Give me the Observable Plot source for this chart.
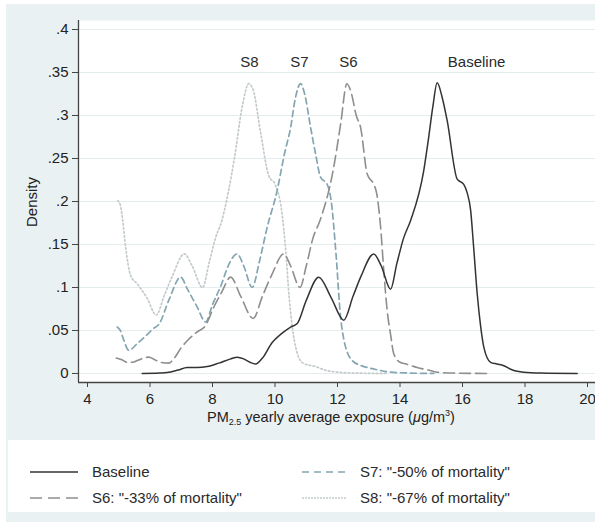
<!DOCTYPE html>
<html>
<head>
<meta charset="utf-8">
<script src="https://cdn.jsdelivr.net/npm/d3@7"></script>
<script src="https://cdn.jsdelivr.net/npm/@observablehq/plot@0.6"></script>
<style>
  html, body { margin: 0; padding: 0; background: #ffffff; }
  #wrap { position: relative; width: 595px; height: 522px; overflow: hidden; background: #ffffff; font-family: "Liberation Sans", Arial, sans-serif; }
  #bg { position: absolute; left: 6px; top: 4px; right: 0; bottom: 0; background: #eaf1f2; }
  #chart { position: absolute; left: 0; top: 0; }
  #legend { position: absolute; left: 8px; top: 440px; width: 587px; height: 72px; background: #ffffff; }
</style>
</head>
<body>
<div id="wrap">
  <div id="bg"></div>
  <div id="chart"></div>
  <div id="legend"></div>
</div>
<script>
// ---- Data ----
const baselineX = [5.75, 6.3, 6.55, 6.9, 7.19, 7.5, 7.83, 8.2, 8.58, 8.79, 9.0, 9.2, 9.38, 9.6, 9.91, 10.2, 10.5, 10.71, 11.0, 11.4, 11.8, 12.2, 12.5, 12.74, 13.16, 13.4, 13.7, 13.9, 14.12, 14.34, 14.76, 14.9, 15.05, 15.19, 15.35, 15.51, 15.83, 16.04, 16.15, 16.26, 16.35, 16.47, 16.58, 16.68, 16.9, 17.1, 17.32, 17.6, 17.96, 18.5, 19.67];
const baselineY = [0, 0.0005, 0.001, 0.004, 0.007, 0.007, 0.008, 0.012, 0.017, 0.019, 0.017, 0.013, 0.011, 0.018, 0.036, 0.046, 0.054, 0.058, 0.085, 0.112, 0.088, 0.062, 0.09, 0.112, 0.139, 0.125, 0.098, 0.128, 0.158, 0.178, 0.236, 0.27, 0.31, 0.338, 0.321, 0.294, 0.226, 0.22, 0.21, 0.19, 0.15, 0.093, 0.055, 0.031, 0.013, 0.011, 0.009, 0.004, 0.0015, 0.0005, 0];

const s6X = [4.92, 5.1, 5.27, 5.45, 5.59, 5.8, 5.96, 6.15, 6.34, 6.6, 6.76, 7.0, 7.19, 7.5, 7.78, 8.04, 8.3, 8.58, 8.9, 9.3, 9.6, 9.9, 10.28, 10.5, 10.8, 11.0, 11.22, 11.44, 11.86, 12.1, 12.3, 12.45, 12.6, 12.74, 12.95, 13.16, 13.25, 13.38, 13.48, 13.59, 13.7, 13.8, 14.0, 14.2, 14.55, 14.9, 15.19, 15.7, 16.79];
const s6Y = [0.018, 0.016, 0.013, 0.013, 0.015, 0.018, 0.019, 0.016, 0.013, 0.012, 0.017, 0.03, 0.038, 0.048, 0.056, 0.077, 0.095, 0.112, 0.09, 0.064, 0.09, 0.115, 0.139, 0.125, 0.1, 0.125, 0.158, 0.178, 0.236, 0.29, 0.337, 0.325, 0.3, 0.286, 0.232, 0.22, 0.21, 0.17, 0.12, 0.073, 0.045, 0.023, 0.013, 0.011, 0.007, 0.004, 0.0015, 0.0005, 0];

const s7X = [4.95, 5.05, 5.15, 5.32, 5.6, 5.9, 6.1, 6.3, 6.6, 6.98, 7.2, 7.5, 7.78, 8.0, 8.3, 8.5, 8.79, 9.0, 9.27, 9.5, 9.75, 10.07, 10.3, 10.5, 10.65, 10.82, 10.95, 11.14, 11.3, 11.46, 11.67, 11.8, 11.95, 12.1, 12.2, 12.31, 12.5, 12.7, 12.95, 13.3, 13.7, 14.3, 15.08];
const s7Y = [0.054, 0.05, 0.04, 0.027, 0.035, 0.045, 0.052, 0.058, 0.085, 0.112, 0.098, 0.078, 0.06, 0.08, 0.105, 0.125, 0.139, 0.125, 0.1, 0.13, 0.17, 0.213, 0.255, 0.286, 0.32, 0.337, 0.325, 0.286, 0.255, 0.228, 0.22, 0.2, 0.14, 0.065, 0.04, 0.025, 0.014, 0.01, 0.007, 0.004, 0.0015, 0.0005, 0];

const s8X = [4.97, 5.05, 5.12, 5.22, 5.38, 5.6, 5.9, 6.2, 6.45, 6.7, 7.1, 7.35, 7.68, 7.9, 8.1, 8.3, 8.5, 8.7, 8.95, 9.16, 9.3, 9.54, 9.8, 10.0, 10.21, 10.35, 10.45, 10.55, 10.7, 10.9, 11.3, 11.6, 12.0, 12.5, 13.6];
const s8Y = [0.201, 0.196, 0.18, 0.147, 0.114, 0.104, 0.088, 0.068, 0.09, 0.112, 0.139, 0.125, 0.1, 0.13, 0.158, 0.178, 0.21, 0.25, 0.31, 0.337, 0.33, 0.28, 0.23, 0.22, 0.19, 0.14, 0.09, 0.055, 0.025, 0.012, 0.008, 0.004, 0.0015, 0.0005, 0];

const peakNames = ["S8", "S7", "S6", "Baseline"];
const peakLabelX = [9.18, 10.78, 12.35, 16.45];
const peakLabelY = [0.3616, 0.3616, 0.3616, 0.3616];

const xTicks = [4, 6, 8, 10, 12, 14, 16, 18, 20];
const yTicks = [0, 0.05, 0.1, 0.15, 0.2, 0.25, 0.3, 0.35, 0.4];
const yTickLabels = ["0", ".05", ".1", ".15", ".2", ".25", ".3", ".35", ".4"];

const seriesNames = ["Baseline", "S6: \"-33% of mortality\"", "S7: \"-50% of mortality\"", "S8: \"-67% of mortality\""];

// ---- Styles ----
const colBase = "#333333", colS6 = "#8e8e8e", colS7 = "#84a6b2", colS8 = "#c3cbcc";
const dashS6 = "11,5", dashS7 = "6,4", dashS8 = "1.6,2.4";

const toRows = (xs, ys) => xs.map((x, i) => ({x, y: ys[i]}));
const baseRows = toRows(baselineX, baselineY);
const s6Rows = toRows(s6X, s6Y);
const s7Rows = toRows(s7X, s7Y);
const s8Rows = toRows(s8X, s8Y);
const peakRows = peakNames.map((t, i) => ({t, x: peakLabelX[i], y: peakLabelY[i]}));

const xDomain = [3.712, 20.256];
const yDomain = [-0.0105, 0.4105];

const plot = Plot.plot({
  width: 595,
  height: 440,
  marginLeft: 78,
  marginRight: 0,
  marginTop: 20,
  marginBottom: 58,
  style: {fontFamily: "'Liberation Sans', Arial, sans-serif", fontSize: "15px", color: "#222", background: "transparent", overflow: "visible"},
  x: {domain: xDomain, ticks: xTicks, label: null},
  y: {domain: yDomain, ticks: yTicks, label: null},
  marks: [
    Plot.frame({fill: "#ffffff", stroke: "none", inset: 0}),
    Plot.ruleY(yTicks, {stroke: "#e4ecee", strokeWidth: 1}),
    Plot.line(s8Rows, {x: "x", y: "y", stroke: colS8, strokeWidth: 1.7, strokeDasharray: dashS8, curve: "monotone-x"}),
    Plot.line(s7Rows, {x: "x", y: "y", stroke: colS7, strokeWidth: 1.7, strokeDasharray: dashS7, curve: "monotone-x"}),
    Plot.line(s6Rows, {x: "x", y: "y", stroke: colS6, strokeWidth: 1.6, strokeDasharray: dashS6, curve: "monotone-x"}),
    Plot.line(baseRows, {x: "x", y: "y", stroke: colBase, strokeWidth: 1.5, curve: "monotone-x"}),
    Plot.text(peakRows, {x: "x", y: "y", text: "t", fill: "#2a2a2a", fontSize: 15}),
    Plot.axisX({ticks: xTicks, tickSize: 5, tickPadding: 6, stroke: "#444", label: null, tickFormat: d => String(d)}),
    Plot.axisY({ticks: yTicks, tickSize: 6, tickPadding: 4, stroke: "#444", label: null, tickFormat: d => yTickLabels[yTicks.indexOf(d)]}),
    Plot.ruleX([xDomain[0]], {stroke: "#444", strokeWidth: 1.3}),
    Plot.ruleY([yDomain[0]], {stroke: "#444", strokeWidth: 1.3})
  ]
});
document.getElementById("chart").appendChild(plot);

// Axis titles as real text
const svg = d3.select(plot);
const xt = svg.append("text")
  .attr("x", 207).attr("y", 422)
  .attr("text-anchor", "start")
  .attr("fill", "#222").attr("font-size", 14.5)
  .attr("font-family", "'Liberation Sans', Arial, sans-serif");
xt.append("tspan").text("PM");
xt.append("tspan").attr("font-size", 9).attr("dy", 3).text("2.5");
xt.append("tspan").attr("dy", -3).text(" yearly average exposure (");
xt.append("tspan").attr("font-style", "italic").text("\u03bc");
xt.append("tspan").text("g/m");
xt.append("tspan").attr("font-size", 9).attr("dy", -6).text("3");
xt.append("tspan").attr("dy", 6).text(")");

svg.append("text")
  .attr("transform", "translate(37,202) rotate(-90)")
  .attr("text-anchor", "middle")
  .attr("fill", "#222").attr("font-size", 15)
  .attr("font-family", "'Liberation Sans', Arial, sans-serif")
  .text("Density");

// Legend
const leg = d3.select("#legend").append("svg").attr("width", 587).attr("height", 72)
  .style("font-family", "'Liberation Sans', Arial, sans-serif");
const legItems = [
  {name: seriesNames[0], color: colBase, dash: null, w: 1.5, x0: 22, x1: 70, tx: 84, y: 32},
  {name: seriesNames[1], color: colS6, dash: "12,6", w: 1.4, x0: 22, x1: 70, tx: 84, y: 58},
  {name: seriesNames[2], color: colS7, dash: "7,5", w: 1.4, x0: 294, x1: 339, tx: 352, y: 32},
  {name: seriesNames[3], color: colS8, dash: "2,1", w: 1.4, x0: 294, x1: 339, tx: 352, y: 58}
];
legItems.forEach(it => {
  leg.append("line").attr("x1", it.x0).attr("x2", it.x1).attr("y1", it.y).attr("y2", it.y)
    .attr("stroke", it.color).attr("stroke-width", it.w)
    .attr("stroke-dasharray", it.dash);
  leg.append("text").attr("x", it.tx).attr("y", it.y).attr("dy", "0.36em")
    .attr("fill", "#2a2a2a").attr("font-size", 15).text(it.name);
});
</script>
</body>
</html>
